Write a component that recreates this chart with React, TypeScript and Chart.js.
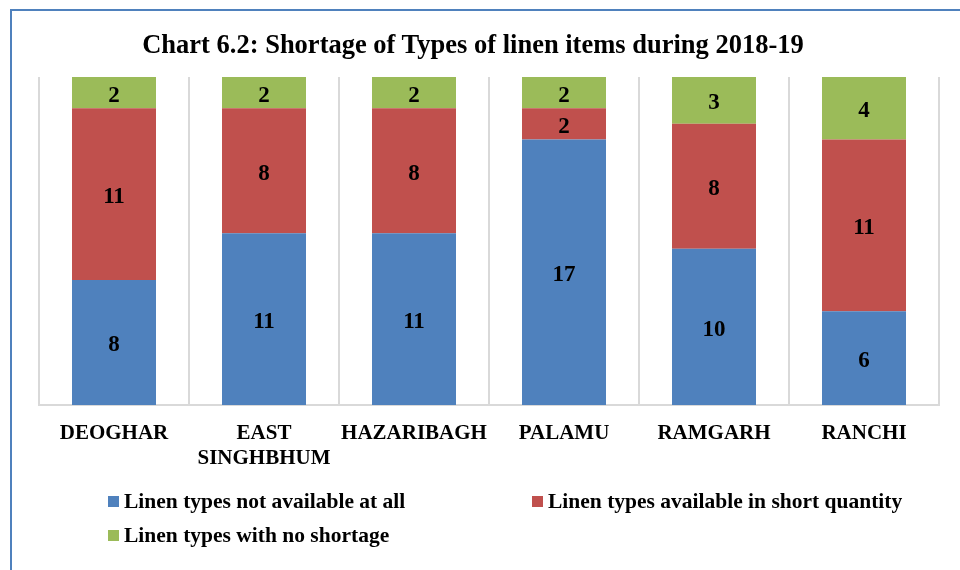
import React, { useEffect, useRef } from "react";
import { Chart, registerables } from "chart.js";

Chart.register(...registerables);

const categories: (string | string[])[] = [
  "DEOGHAR",
  ["EAST", "SINGHBHUM"],
  "HAZARIBAGH",
  "PALAMU",
  "RAMGARH",
  "RANCHI",
];
const notAvailable = [8, 11, 11, 17, 10, 6];
const shortQuantity = [11, 8, 8, 2, 8, 11];
const noShortage = [2, 2, 2, 2, 3, 4];
const seriesNames = [
  "Linen types not available at all",
  "Linen types available in short quantity",
  "Linen types with no shortage",
];
const seriesColors = ["#4F81BD", "#C0504D", "#9BBB59"];
const titleText = "Chart 6.2: Shortage of Types of linen items during 2018-19";

const FONT = "'Liberation Serif', 'Times New Roman', serif";

const valueLabels = {
  id: "valueLabels",
  afterDatasetsDraw(chart: any) {
    const ctx = chart.ctx;
    ctx.save();
    ctx.font = `bold 23px ${FONT}`;
    ctx.fillStyle = "#000";
    ctx.textAlign = "center";
    ctx.textBaseline = "middle";
    chart.data.datasets.forEach((ds: any, i: number) => {
      const meta = chart.getDatasetMeta(i);
      meta.data.forEach((el: any, j: number) => {
        const v = ds.data[j];
        ctx.fillText(String(v), el.x, (el.y + el.base) / 2 + 3);
      });
    });
    ctx.restore();
  },
};

export default function App() {
  const canvasRef = useRef<HTMLCanvasElement | null>(null);

  useEffect(() => {
    if (!canvasRef.current) return;
    const chart = new Chart(canvasRef.current, {
      type: "bar",
      data: {
        labels: categories,
        datasets: [notAvailable, shortQuantity, noShortage].map((d, i) => ({
          label: seriesNames[i],
          data: d,
          backgroundColor: seriesColors[i],
          borderWidth: 0,
          categoryPercentage: 1,
          barPercentage: 0.56,
        })),
      },
      options: {
        animation: false,
        responsive: false,
        maintainAspectRatio: false,
        layout: { padding: { left: 39, right: 21, top: 77, bottom: 0 } },
        plugins: {
          legend: { display: false },
          tooltip: { enabled: false },
          title: { display: false },
        },
        scales: {
          x: {
            stacked: true,
            offset: true,
            grid: {
              offset: true,
              display: true,
              color: "#D9D9D9",
              lineWidth: 2,
              drawTicks: false,
            },
            border: { display: true, color: "#D9D9D9", width: 2 },
            ticks: {
              color: "#000",
              font: { family: FONT, size: 21, weight: "bold" },
              padding: 16,
              maxRotation: 0,
              autoSkip: false,
            },
            afterFit: (axis: any) => {
              axis.height = 165;
            },
          },
          y: {
            stacked: true,
            display: false,
            min: 0,
            max: 21,
          },
        },
      },
      plugins: [valueLabels],
    });
    return () => chart.destroy();
  }, []);

  const legendItem = (i: number, left: number, top: number) => (
    <div
      key={i}
      style={{
        position: "absolute",
        left,
        top,
        height: 22,
        display: "flex",
        alignItems: "center",
        fontFamily: FONT,
        fontWeight: "bold",
        fontSize: 21.5,
        color: "#000",
        whiteSpace: "nowrap",
      }}
    >
      <span
        style={{
          display: "inline-block",
          width: 11,
          height: 11,
          background: seriesColors[i],
          marginRight: 5,
        }}
      />
      <span>{seriesNames[i]}</span>
    </div>
  );

  return (
    <div
      style={{
        position: "fixed",
        left: 0,
        top: 0,
        width: 960,
        height: 570,
        background: "#fff",
        overflow: "hidden",
      }}
    >
      <canvas ref={canvasRef} width={960} height={570} style={{ position: "absolute", left: 0, top: 0 }} />
      <div
        style={{
          position: "absolute",
          left: 10,
          top: 9,
          width: 1000,
          height: 600,
          borderLeft: "2px solid #4F81BD",
          borderTop: "2px solid #4F81BD",
          pointerEvents: "none",
        }}
      />
      <div
        style={{
          position: "absolute",
          left: 0,
          top: 28,
          width: 946,
          height: 32,
          lineHeight: "32px",
          textAlign: "center",
          fontFamily: FONT,
          fontWeight: "bold",
          fontSize: 26.5,
          color: "#000",
          whiteSpace: "nowrap",
        }}
      >
        {titleText}
      </div>
      {legendItem(0, 108, 490)}
      {legendItem(1, 532, 490)}
      {legendItem(2, 108, 524)}
    </div>
  );
}
